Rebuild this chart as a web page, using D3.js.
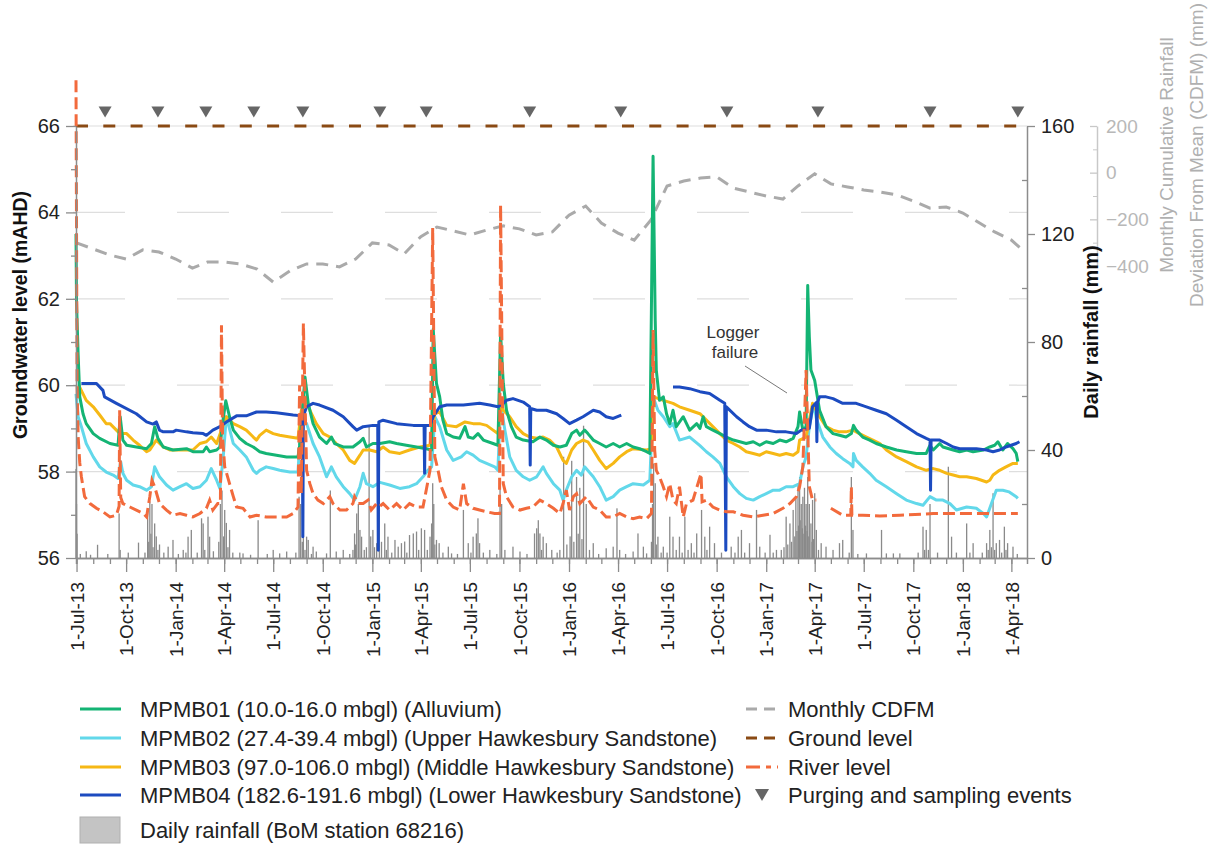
<!DOCTYPE html>
<html><head><meta charset="utf-8">
<script src="https://cdn.jsdelivr.net/npm/d3@7"></script>
<style>
html,body{margin:0;padding:0;background:#fff;}
svg{display:block;font-family:"Liberation Sans",Arial,Helvetica,sans-serif;}
</style></head><body>
<svg id="chart" width="1215" height="846"></svg>
<script>
// ---------------- DATA ----------------
const dateDomain = ["2013-06-30", "2018-04-30"];
const levelTicks = [56, 58, 60, 62, 64, 66];
const levelMinorTicks = [57, 59, 61, 63, 65];
const gridLevels = [58, 60, 62, 64, 66];
const groundLevel = 66;
const rainTicks = [0, 40, 80, 120, 160];
const rainMinorTicks = [20, 60, 100, 140];
const cdfmTicks = [200, 0, -200, -400];
const cdfmMinorTicks = [100, -100, -300];

const seriesNames = [
  "MPMB01 (10.0-16.0 mbgl) (Alluvium)",
  "MPMB02 (27.4-39.4 mbgl) (Upper Hawkesbury Sandstone)",
  "MPMB03 (97.0-106.0 mbgl) (Middle Hawkesbury Sandstone)",
  "MPMB04 (182.6-191.6 mbgl) (Lower Hawkesbury Sandstone)"
];
const rightLegendNames = ["Monthly CDFM", "Ground level", "River level", "Purging and sampling events"];
const rainLegendName = "Daily rainfall (BoM station 68216)";

const purgeDates = ["2013-08-23","2013-11-29","2014-02-26","2014-05-26","2014-08-25","2015-01-15",
  "2015-04-11","2015-10-20","2016-04-06","2016-10-20","2017-04-07","2017-11-01","2018-04-13"];

const cdfmMonths = ["2013-07-01","2013-08-01","2013-09-01","2013-10-01","2013-11-01","2013-12-01",
  "2014-01-01","2014-02-01","2014-03-01","2014-04-01","2014-05-01","2014-06-01","2014-07-01","2014-08-01",
  "2014-09-01","2014-10-01","2014-11-01","2014-12-01","2015-01-01","2015-02-01","2015-03-01","2015-04-01",
  "2015-05-01","2015-06-01","2015-07-01","2015-08-01","2015-09-01","2015-10-01","2015-11-01","2015-12-01",
  "2016-01-01","2016-02-01","2016-03-01","2016-04-01","2016-05-01","2016-06-01","2016-07-01","2016-08-01",
  "2016-09-01","2016-10-01","2016-11-01","2016-12-01","2017-01-01","2017-02-01","2017-03-01","2017-04-01",
  "2017-05-01","2017-06-01","2017-07-01","2017-08-01","2017-09-01","2017-10-01","2017-11-01","2017-12-01",
  "2018-01-01","2018-02-01","2018-03-01","2018-04-01","2018-04-17"];
const cdfmValues = [-301,-327,-353,-370,-331,-340,-370,-409,-383,-383,-391,-413,-469,-421,-391,-391,-404,-370,
  -301,-310,-348,-274,-233,-250,-267,-246,-228,-241,-267,-254,-182,-143,-216,-259,-289,-203,-57,-36,-23,-18,
  -66,-83,-100,-113,-57,-5,-48,-61,-74,-83,-96,-122,-152,-147,-173,-216,-254,-289,-322];

const mpmb01 = [["2013-06-30",63.5],["2013-07-01",61.9],["2013-07-04",60.7],["2013-07-07",59.73],["2013-07-13",59.34],
 ["2013-07-19",59.11],["2013-08-01",58.88],["2013-08-13",58.77],["2013-09-01",58.65],["2013-09-16",58.61],["2013-09-20",59.27],
 ["2013-09-25",58.73],["2013-10-02",58.61],["2013-10-20",58.57],["2013-11-08",58.53],["2013-11-17",58.65],["2013-11-23",59.04],
 ["2013-11-29",58.77],["2013-12-09",58.57],["2013-12-27",58.5],["2014-01-21",58.53],["2014-02-02",58.46],["2014-02-21",58.46],
 ["2014-02-27",58.57],["2014-03-05",58.46],["2014-03-18",58.5],["2014-03-24",58.57],["2014-03-30",59.2],["2014-04-04",59.64],
 ["2014-04-11",59.27],["2014-04-18",58.96],["2014-04-30",58.77],["2014-05-12",58.65],["2014-05-25",58.57],["2014-06-06",58.46],
 ["2014-06-18",58.42],["2014-07-07",58.38],["2014-07-26",58.34],["2014-08-16",58.34],["2014-08-19",58.6],["2014-08-29",60.19],
 ["2014-09-04",59.58],["2014-09-13",59.11],["2014-09-25",58.8],["2014-10-08",58.65],["2014-10-17",58.8],["2014-10-23",58.65],
 ["2014-11-08",58.57],["2014-11-26",58.57],["2014-12-09",58.69],["2014-12-15",58.77],["2014-12-21",58.57],["2015-01-02",58.65],
 ["2015-01-15",58.65],["2015-02-02",58.69],["2015-02-15",58.65],["2015-03-05",58.61],["2015-03-24",58.57],["2015-04-11",58.53],
 ["2015-04-21",58.5],["2015-04-24",61.3],["2015-04-30",60.04],["2015-05-06",59.73],["2015-05-12",59.19],["2015-05-19",58.88],
 ["2015-05-31",58.8],["2015-06-12",58.77],["2015-06-22",59.04],["2015-06-28",58.8],["2015-07-07",58.77],["2015-07-16",58.88],
 ["2015-07-26",58.73],["2015-08-13",58.65],["2015-08-22",58.61],["2015-08-27",61.2],["2015-09-01",60.04],["2015-09-07",59.42],
 ["2015-09-16",59.04],["2015-09-25",58.8],["2015-10-08",58.73],["2015-10-26",58.69],["2015-11-08",58.8],["2015-11-20",58.73],
 ["2015-12-03",58.61],["2015-12-15",58.57],["2015-12-27",58.61],["2016-01-06",58.88],["2016-01-15",58.96],["2016-01-21",58.84],
 ["2016-01-30",58.96],["2016-02-05",58.88],["2016-02-15",58.73],["2016-02-27",58.65],["2016-03-10",58.57],["2016-03-23",58.65],
 ["2016-04-04",58.57],["2016-04-17",58.65],["2016-04-29",58.57],["2016-05-11",58.53],["2016-05-24",58.46],["2016-05-30",58.42],
 ["2016-06-05",65.3],["2016-06-09",61.5],["2016-06-11",60.35],["2016-06-17",59.65],["2016-06-24",59.73],["2016-06-30",59.34],
 ["2016-07-06",59.11],["2016-07-12",59.42],["2016-07-18",59.04],["2016-07-31",59.27],["2016-08-12",58.96],["2016-08-25",59.11],
 ["2016-08-31",59.0],["2016-09-06",59.27],["2016-09-12",59.04],["2016-09-24",58.96],["2016-10-07",58.88],["2016-10-19",58.8],
 ["2016-11-01",58.73],["2016-11-13",58.69],["2016-11-25",58.65],["2016-12-08",58.69],["2016-12-20",58.61],["2017-01-01",58.69],
 ["2017-01-14",58.65],["2017-01-26",58.73],["2017-02-07",58.69],["2017-02-20",58.77],["2017-03-01",59.04],["2017-03-04",59.38],
 ["2017-03-10",58.96],["2017-03-16",59.04],["2017-03-19",62.31],["2017-03-22",61.12],["2017-03-25",60.35],["2017-04-01",60.11],
 ["2017-04-10",59.42],["2017-04-22",59.04],["2017-05-05",58.88],["2017-05-17",58.84],["2017-05-29",58.8],["2017-06-08",58.88],
 ["2017-06-12",59.07],["2017-06-17",58.96],["2017-06-29",58.8],["2017-07-12",58.73],["2017-07-24",58.65],["2017-08-12",58.57],
 ["2017-08-31",58.5],["2017-09-18",58.46],["2017-10-07",58.42],["2017-10-25",58.42],["2017-11-01",58.61],["2017-11-07",58.5],
 ["2017-11-19",58.65],["2017-11-25",58.57],["2017-12-14",58.5],["2017-12-26",58.46],["2018-01-08",58.5],["2018-01-20",58.46],
 ["2018-02-08",58.5],["2018-02-20",58.57],["2018-03-01",58.61],["2018-03-07",58.69],["2018-03-16",58.5],["2018-03-25",58.65],
 ["2018-04-04",58.53],["2018-04-10",58.42],["2018-04-13",58.23]];

const mpmb02 = [["2013-06-30",59.8],["2013-07-04",59.27],["2013-07-10",59.04],["2013-07-19",58.65],["2013-08-01",58.34],
 ["2013-08-13",58.11],["2013-08-25",57.99],["2013-09-07",57.92],["2013-09-16",57.84],["2013-09-21",58.23],["2013-09-25",57.96],
 ["2013-10-02",57.8],["2013-10-14",57.69],["2013-10-26",57.65],["2013-11-08",57.57],["2013-11-17",57.65],["2013-11-23",58.11],
 ["2013-12-02",57.88],["2013-12-15",57.69],["2013-12-27",57.57],["2014-01-09",57.65],["2014-01-21",57.72],["2014-02-02",57.61],
 ["2014-02-15",57.65],["2014-02-27",57.8],["2014-03-08",58.07],["2014-03-18",57.8],["2014-03-24",57.61],["2014-03-30",58.3],
 ["2014-04-05",59.27],["2014-04-18",58.65],["2014-04-30",58.5],["2014-05-12",58.34],["2014-05-25",58.03],["2014-05-31",57.96],
 ["2014-06-06",58.03],["2014-06-18",58.11],["2014-07-01",58.07],["2014-07-13",58.03],["2014-08-01",57.99],["2014-08-16",57.99],
 ["2014-08-22",59.27],["2014-09-01",59.11],["2014-09-13",58.65],["2014-09-25",58.34],["2014-10-08",57.88],["2014-10-17",58.11],
 ["2014-10-26",57.88],["2014-11-08",57.65],["2014-11-20",57.49],["2014-11-29",57.34],["2014-12-09",57.65],["2014-12-15",57.96],
 ["2014-12-21",57.72],["2015-01-02",57.65],["2015-01-15",57.75],["2015-02-02",57.69],["2015-02-21",57.61],["2015-03-11",57.65],
 ["2015-03-24",57.72],["2015-04-05",57.88],["2015-04-14",58.03],["2015-04-21",58.11],["2015-04-27",59.27],["2015-05-06",59.04],
 ["2015-05-19",58.5],["2015-05-31",58.26],["2015-06-15",58.34],["2015-06-25",58.46],["2015-07-07",58.38],["2015-07-19",58.26],
 ["2015-08-01",58.19],["2015-08-16",58.11],["2015-08-22",58.03],["2015-08-27",59.58],["2015-09-04",58.96],["2015-09-13",58.34],
 ["2015-09-25",58.03],["2015-10-08",57.88],["2015-10-20",57.8],["2015-11-02",57.88],["2015-11-14",58.11],["2015-11-20",57.96],
 ["2015-12-03",57.72],["2015-12-15",57.57],["2015-12-21",57.34],["2015-12-27",57.57],["2016-01-06",57.88],["2016-01-15",58.03],
 ["2016-01-24",57.92],["2016-01-30",58.11],["2016-02-15",57.88],["2016-02-27",57.65],["2016-03-10",57.34],["2016-03-23",57.42],
 ["2016-04-04",57.57],["2016-04-17",57.65],["2016-04-29",57.72],["2016-05-18",57.69],["2016-05-30",57.8],["2016-06-05",59.73],
 ["2016-06-14",59.42],["2016-06-24",59.27],["2016-07-06",59.04],["2016-07-12",59.11],["2016-07-24",58.73],["2016-08-12",58.8],
 ["2016-08-31",58.6],["2016-09-12",58.46],["2016-09-24",58.34],["2016-10-07",58.19],["2016-10-19",57.88],["2016-11-01",57.65],
 ["2016-11-13",57.49],["2016-11-25",57.38],["2016-12-08",57.34],["2016-12-20",57.42],["2017-01-01",57.49],["2017-01-14",57.57],
 ["2017-01-26",57.57],["2017-02-07",57.65],["2017-02-20",57.65],["2017-03-04",57.72],["2017-03-10",58.11],["2017-03-16",58.34],
 ["2017-03-22",59.04],["2017-03-28",59.42],["2017-04-01",59.46],["2017-04-04",59.23],["2017-04-16",58.8],["2017-04-29",58.57],
 ["2017-05-11",58.42],["2017-05-23",58.3],["2017-06-05",58.19],["2017-06-11",58.11],["2017-06-12",58.42],["2017-06-17",58.26],
 ["2017-06-29",58.11],["2017-07-12",57.96],["2017-07-24",57.8],["2017-08-12",57.65],["2017-08-31",57.49],["2017-09-18",57.34],
 ["2017-10-07",57.26],["2017-10-19",57.22],["2017-11-01",57.42],["2017-11-13",57.34],["2017-11-25",57.34],["2017-12-08",57.26],
 ["2017-12-20",57.11],["2018-01-08",57.18],["2018-01-26",57.15],["2018-02-08",57.03],["2018-02-14",56.95],["2018-02-23",57.26],
 ["2018-03-04",57.57],["2018-03-16",57.57],["2018-03-28",57.53],["2018-04-10",57.42],["2018-04-13",57.38]];

const mpmb03 = [["2013-07-05",60.0],["2013-07-19",59.65],["2013-08-01",59.5],["2013-08-13",59.31],["2013-08-25",59.11],
 ["2013-09-01",59.11],["2013-09-13",58.96],["2013-09-19",58.88],["2013-10-02",58.88],["2013-10-14",58.73],["2013-10-26",58.61],
 ["2013-11-08",58.46],["2013-11-14",58.5],["2013-11-26",58.73],["2013-12-09",58.57],["2013-12-21",58.5],["2014-01-02",58.5],
 ["2014-01-21",58.5],["2014-02-02",58.5],["2014-02-15",58.65],["2014-02-27",58.69],["2014-03-08",58.8],["2014-03-18",58.65],
 ["2014-03-27",58.96],["2014-04-05",59.27],["2014-04-11",59.19],["2014-04-18",59.11],["2014-04-30",59.04],["2014-05-12",58.96],
 ["2014-05-25",58.8],["2014-05-31",58.73],["2014-06-06",58.84],["2014-06-18",58.96],["2014-07-01",58.88],["2014-07-13",58.84],
 ["2014-08-01",58.8],["2014-08-16",58.77],["2014-08-22",59.4],["2014-08-29",59.73],["2014-09-07",59.42],["2014-09-19",59.11],
 ["2014-10-02",58.88],["2014-10-14",58.8],["2014-10-26",58.65],["2014-11-08",58.5],["2014-11-20",58.26],["2014-11-29",58.19],
 ["2014-12-09",58.38],["2014-12-15",58.5],["2014-12-27",58.5],["2015-01-09",58.46],["2015-01-21",58.57],["2015-02-02",58.46],
 ["2015-02-21",58.42],["2015-03-11",58.5],["2015-03-30",58.57],["2015-04-18",58.61],["2015-04-27",59.34],["2015-05-06",59.38],
 ["2015-05-19",59.07],["2015-06-06",59.04],["2015-06-22",59.15],["2015-07-07",59.11],["2015-07-19",59.11],["2015-08-01",59.07],
 ["2015-08-13",58.96],["2015-08-22",58.88],["2015-08-29",59.58],["2015-09-01",59.42],["2015-09-13",59.27],["2015-09-25",59.04],
 ["2015-10-08",58.88],["2015-10-20",58.8],["2015-11-02",58.77],["2015-11-14",58.8],["2015-11-26",58.73],["2015-12-09",58.57],
 ["2015-12-21",58.26],["2015-12-27",58.19],["2016-01-06",58.5],["2016-01-15",58.65],["2016-01-27",58.73],["2016-02-05",58.69],
 ["2016-02-15",58.5],["2016-02-27",58.26],["2016-03-10",58.07],["2016-03-23",58.19],["2016-04-04",58.34],["2016-04-17",58.46],
 ["2016-04-29",58.53],["2016-05-24",58.5],["2016-06-02",58.53],["2016-06-06",59.73],["2016-06-24",59.65],["2016-07-12",59.58],
 ["2016-07-24",59.5],["2016-08-12",59.42],["2016-08-31",59.34],["2016-09-06",59.27],["2016-09-24",59.04],["2016-10-07",58.88],
 ["2016-10-19",58.73],["2016-11-01",58.65],["2016-11-13",58.57],["2016-11-25",58.46],["2016-12-08",58.42],["2016-12-20",58.38],
 ["2017-01-01",58.46],["2017-01-14",58.42],["2017-01-26",58.38],["2017-02-07",58.42],["2017-02-20",58.38],["2017-03-01",58.46],
 ["2017-03-04",58.73],["2017-03-16",58.8],["2017-03-28",59.58],["2017-04-10",59.27],["2017-04-22",59.04],["2017-05-05",58.96],
 ["2017-05-17",58.92],["2017-05-29",58.92],["2017-06-11",58.96],["2017-06-23",58.88],["2017-07-06",58.8],["2017-07-18",58.73],
 ["2017-07-31",58.65],["2017-08-12",58.5],["2017-08-31",58.34],["2017-09-18",58.23],["2017-10-07",58.11],["2017-10-25",58.03],
 ["2017-11-07",58.07],["2017-11-19",58.03],["2017-12-02",57.96],["2017-12-14",57.92],["2017-12-26",57.88],["2018-01-08",57.88],
 ["2018-01-26",57.84],["2018-02-14",57.76],["2018-02-20",57.8],["2018-02-26",57.92],["2018-03-10",58.03],["2018-03-22",58.11],
 ["2018-04-04",58.19],["2018-04-13",58.19]];

const mpmb04 = [["2013-07-10",60.04],["2013-08-07",60.04],["2013-08-19",59.88],["2013-08-22",59.73],["2013-09-13",59.58],
 ["2013-10-20",59.34],["2013-11-08",59.15],["2013-11-20",59.1],["2013-11-26",59.15],["2013-12-02",58.96],["2013-12-09",58.92],
 ["2013-12-27",58.92],["2014-01-02",58.96],["2014-01-21",58.92],["2014-02-02",58.9],["2014-02-21",58.88],["2014-02-27",58.84],
 ["2014-03-11",58.96],["2014-03-24",59.04],["2014-04-05",59.15],["2014-04-24",59.29],["2014-05-12",59.29],["2014-05-31",59.38],
 ["2014-06-18",59.38],["2014-07-07",59.36],["2014-08-07",59.31],["2014-08-24",59.29],["2014-08-25",56.49],["2014-08-26",59.29],
 ["2014-09-01",59.5],["2014-09-13",59.58],["2014-09-25",59.54],["2014-10-20",59.42],["2014-11-08",59.27],["2014-11-26",59.04],
 ["2014-12-03",58.96],["2014-12-15",59.04],["2015-01-02",59.07],["2015-01-11",59.07],["2015-01-12",56.18],["2015-01-13",59.15],
 ["2015-01-21",59.19],["2015-02-15",59.11],["2015-03-18",59.07],["2015-04-07",59.07],["2015-04-08",57.96],["2015-04-09",59.07],
 ["2015-04-18",59.07],["2015-04-24",59.27],["2015-05-06",59.5],["2015-05-19",59.54],["2015-06-19",59.54],["2015-07-19",59.58],
 ["2015-08-07",59.54],["2015-08-22",59.5],["2015-09-01",59.58],["2015-09-07",59.65],["2015-09-19",59.69],["2015-10-08",59.61],
 ["2015-10-20",59.5],["2015-10-21",58.15],["2015-10-22",59.46],["2015-11-02",59.42],["2015-11-20",59.42],["2015-12-09",59.34],
 ["2015-12-21",59.23],["2016-01-02",59.11],["2016-01-15",59.19],["2016-01-27",59.27],["2016-02-15",59.42],["2016-02-27",59.38],
 ["2016-03-10",59.27],["2016-03-23",59.23],["2016-04-07",59.31],["2016-05-01",null],["2016-07-12",59.96],["2016-07-24",59.96],
 ["2016-08-12",59.92],["2016-08-31",59.85],["2016-09-18",59.81],["2016-10-07",59.65],["2016-10-16",59.58],["2016-10-18",56.18],
 ["2016-10-19",59.5],["2016-11-07",59.27],["2016-11-19",59.15],["2016-12-01",59.04],["2016-12-14",58.96],["2017-01-01",58.96],
 ["2017-01-20",58.92],["2017-02-07",58.92],["2017-02-26",58.88],["2017-03-07",58.96],["2017-03-22",59.0],["2017-03-28",59.5],
 ["2017-04-04",59.6],["2017-04-05",58.69],["2017-04-06",59.6],["2017-04-10",59.73],["2017-04-22",59.73],["2017-05-05",59.69],
 ["2017-05-23",59.58],["2017-06-17",59.58],["2017-07-06",59.5],["2017-07-24",59.42],["2017-08-12",59.34],["2017-08-31",59.19],
 ["2017-09-18",59.04],["2017-10-07",58.88],["2017-10-25",58.77],["2017-11-01",58.73],["2017-11-02",57.57],["2017-11-03",58.73],
 ["2017-11-19",58.73],["2017-12-02",58.65],["2017-12-14",58.57],["2017-12-26",58.53],["2018-01-08",58.53],["2018-01-26",58.53],
 ["2018-02-14",58.5],["2018-02-26",58.46],["2018-03-10",58.5],["2018-03-22",58.57],["2018-04-10",58.65],["2018-04-16",58.69]];

const riverLevel = [["2013-06-30",67.06],["2013-07-02",60.0],["2013-07-04",58.8],["2013-07-07",58.2],["2013-07-10",57.88],
 ["2013-07-16",57.42],["2013-07-26",57.26],["2013-08-07",57.15],["2013-08-19",57.07],["2013-09-01",56.95],["2013-09-13",56.99],
 ["2013-09-18",57.2],["2013-09-19",59.42],["2013-09-21",57.4],["2013-09-25",57.26],["2013-10-08",57.18],["2013-10-20",57.11],
 ["2013-11-02",57.03],["2013-11-08",56.95],["2013-11-14",57.42],["2013-11-18",57.8],["2013-11-23",57.65],["2013-12-02",57.26],
 ["2013-12-15",57.11],["2013-12-27",56.99],["2014-01-09",57.03],["2014-01-21",56.99],["2014-02-02",56.95],["2014-02-15",57.03],
 ["2014-02-27",57.15],["2014-03-05",57.34],["2014-03-11",57.11],["2014-03-20",57.26],["2014-03-25",57.26],["2014-03-27",61.39],
 ["2014-03-29",58.8],["2014-04-02",58.11],["2014-04-11",57.72],["2014-04-18",57.42],["2014-04-24",57.18],["2014-05-06",57.15],
 ["2014-05-19",56.95],["2014-05-31",56.99],["2014-06-18",56.95],["2014-07-07",56.95],["2014-07-26",56.95],["2014-08-07",57.03],
 ["2014-08-16",57.18],["2014-08-19",60.0],["2014-08-22",57.5],["2014-08-26",61.43],["2014-09-01",58.03],["2014-09-07",57.72],
 ["2014-09-13",57.49],["2014-09-22",57.34],["2014-10-02",57.26],["2014-10-14",57.42],["2014-10-20",57.26],["2014-11-02",57.11],
 ["2014-11-14",57.11],["2014-11-26",57.26],["2014-11-29",57.42],["2014-12-06",57.26],["2014-12-15",57.26],["2014-12-24",57.34],
 ["2014-12-30",57.11],["2015-01-09",57.26],["2015-01-15",57.2],["2015-01-21",57.26],["2015-02-02",57.11],["2015-02-15",57.26],
 ["2015-02-27",57.11],["2015-03-11",57.26],["2015-03-24",57.18],["2015-04-05",57.18],["2015-04-18",58.03],["2015-04-23",63.64],
 ["2015-04-27",58.34],["2015-05-03",58.03],["2015-05-09",57.65],["2015-05-19",57.34],["2015-05-31",57.18],["2015-06-12",57.11],
 ["2015-06-19",57.72],["2015-06-25",57.26],["2015-07-07",57.15],["2015-07-19",57.11],["2015-08-01",57.07],["2015-08-16",57.03],
 ["2015-08-25",57.03],["2015-08-27",64.17],["2015-09-01",57.72],["2015-09-07",57.42],["2015-09-19",57.18],["2015-10-02",57.11],
 ["2015-10-14",57.15],["2015-10-26",57.18],["2015-11-08",57.34],["2015-11-20",57.26],["2015-12-03",57.15],["2015-12-15",57.03],
 ["2015-12-21",57.26],["2015-12-27",57.57],["2016-01-02",57.11],["2016-01-09",57.42],["2016-01-15",57.49],["2016-01-21",57.26],
 ["2016-02-02",57.42],["2016-02-15",57.18],["2016-02-27",57.11],["2016-03-10",56.95],["2016-03-23",56.95],["2016-04-04",57.03],
 ["2016-04-17",56.95],["2016-04-29",56.91],["2016-05-11",56.95],["2016-05-24",56.91],["2016-06-02",57.03],["2016-06-05",61.28],
 ["2016-06-08",58.5],["2016-06-11",58.03],["2016-06-17",57.88],["2016-06-24",57.65],["2016-06-30",57.42],["2016-07-06",57.72],
 ["2016-07-12",57.34],["2016-07-18",57.26],["2016-07-24",57.65],["2016-07-31",56.95],["2016-08-06",57.26],["2016-08-18",57.34],
 ["2016-09-02",57.95],["2016-09-04",57.3],["2016-09-12",57.34],["2016-09-24",57.18],["2016-10-07",57.11],["2016-10-19",57.07],
 ["2016-11-01",57.07],["2016-11-19",56.99],["2016-12-08",56.95],["2016-12-26",56.99],["2017-01-14",57.03],["2017-02-01",57.15],
 ["2017-02-14",57.26],["2017-02-26",57.42],["2017-03-04",57.65],["2017-03-10",58.11],["2017-03-16",60.35],["2017-03-22",57.65],
 ["2017-03-28",57.34],["2017-04-04",57.34],["2017-04-15",null],["2017-05-01",57.15],["2017-05-23",56.99],["2017-06-07",56.99],
 ["2017-06-08",57.65],["2017-06-09",56.99],["2017-06-29",56.99],["2017-07-31",56.97],["2017-09-06",56.99],["2017-11-07",57.03],
 ["2018-01-08",57.03],["2018-03-10",57.03],["2018-04-13",57.03]];

const rainfall = [["2013-06-30",33],["2013-07-01",20],["2013-07-02",9],["2013-07-08",1.5],["2013-07-19",2.5],["2013-07-27",1.2],
 ["2013-08-09",4.9],["2013-08-28",1.5],["2013-09-18",16.5],["2013-09-20",3],["2013-10-05",2],["2013-10-24",5.7],["2013-11-05",2],
 ["2013-11-10",18],["2013-11-12",6],["2013-11-14",21],["2013-11-16",9],["2013-11-18",20],["2013-11-20",4],["2013-11-23",12.8],
 ["2013-11-26",8],["2013-11-29",3],["2013-12-02",5],["2013-12-10",2],["2013-12-18",4.2],["2013-12-27",6.7],["2014-01-06",1.5],
 ["2014-01-15",3],["2014-01-20",2],["2014-01-24",7.9],["2014-01-30",10.4],["2014-02-10",2],["2014-02-18",14.7],["2014-02-21",12.8],
 ["2014-02-24",3],["2014-03-02",15.3],["2014-03-05",7.9],["2014-03-12",2.5],["2014-03-22",6],["2014-03-25",20],["2014-03-28",25],
 ["2014-03-31",8],["2014-04-02",17.8],["2014-04-05",13],["2014-04-08",4],["2014-04-11",10.4],["2014-04-17",2],["2014-04-30",2],
 ["2014-05-06",1.7],["2014-05-20",1.2],["2014-06-03",14],["2014-06-20",1.5],["2014-07-01",3],["2014-07-13",1.7],["2014-07-26",2.4],
 ["2014-08-12",2],["2014-08-18",22.7],["2014-08-21",20],["2014-08-24",6],["2014-08-26",17.8],["2014-08-29",3],["2014-09-01",7.9],
 ["2014-09-04",6.7],["2014-09-10",1.5],["2014-09-13",4.2],["2014-09-19",2.4],["2014-10-08",1.7],["2014-10-15",25],["2014-10-26",2.4],
 ["2014-11-08",3],["2014-11-20",1.5],["2014-11-26",3],["2014-11-29",9.1],["2014-12-01",5],["2014-12-03",16.5],["2014-12-06",20],
 ["2014-12-09",10.4],["2014-12-12",7.9],["2014-12-17",3],["2014-12-21",4],["2014-12-26",48.6],["2014-12-29",8],["2015-01-02",10.4],
 ["2015-01-05",4],["2015-01-09",5.5],["2015-01-14",35],["2015-01-18",6],["2015-01-24",12.8],["2015-01-27",3],["2015-01-30",7.9],
 ["2015-02-06",2],["2015-02-12",6.7],["2015-02-18",4.2],["2015-02-24",5.5],["2015-03-02",6.1],["2015-03-06",2],["2015-03-11",8.5],
 ["2015-03-18",9.1],["2015-03-24",9.8],["2015-03-28",3],["2015-04-02",11],["2015-04-08",10.4],["2015-04-13",3],["2015-04-18",7.9],
 ["2015-04-21",12.8],["2015-04-23",27.7],["2015-04-25",20],["2015-04-27",5],["2015-04-30",6.7],["2015-05-05",5.5],["2015-05-12",2],
 ["2015-05-22",4.2],["2015-05-28",1.7],["2015-06-08",1.5],["2015-06-19",17.8],["2015-06-28",5.5],["2015-07-03",2],["2015-07-07",7.9],
 ["2015-07-13",9.1],["2015-07-16",14.7],["2015-07-19",5.5],["2015-07-26",2],["2015-08-07",3],["2015-08-20",1.5],["2015-08-26",27.7],
 ["2015-08-29",20],["2015-09-04",3],["2015-09-19",4.2],["2015-10-02",2.4],["2015-10-15",1.5],["2015-10-29",9.1],["2015-11-02",11],
 ["2015-11-05",14],["2015-11-08",9.1],["2015-11-11",3],["2015-11-14",7.9],["2015-11-20",5.5],["2015-11-30",3],["2015-12-10",2],
 ["2015-12-15",3],["2015-12-22",37.5],["2015-12-28",5],["2016-01-03",8],["2016-01-06",36],["2016-01-10",6],["2016-01-15",30],
 ["2016-01-18",9],["2016-01-21",26],["2016-01-25",7],["2016-01-28",49],["2016-02-02",20],["2016-02-08",3],["2016-02-15",5.5],
 ["2016-02-25",1.5],["2016-03-10",3.6],["2016-03-23",4.2],["2016-03-30",18.4],["2016-04-04",3],["2016-04-15",1.5],["2016-04-29",2.4],
 ["2016-05-08",9.1],["2016-05-18",4.2],["2016-05-24",1.7],["2016-06-02",6],["2016-06-04",20],["2016-06-06",35],["2016-06-09",27.7],
 ["2016-06-11",5],["2016-06-14",7.9],["2016-06-20",2],["2016-06-24",4.2],["2016-07-01",2],["2016-07-06",15.3],["2016-07-12",7.9],
 ["2016-07-18",3],["2016-07-24",7.9],["2016-07-29",2],["2016-08-03",15.3],["2016-08-09",3],["2016-08-15",5.5],["2016-08-20",2],
 ["2016-08-25",9.1],["2016-09-03",17.8],["2016-09-09",7.9],["2016-09-13",3],["2016-09-18",11.6],["2016-09-27",5.5],["2016-10-10",2],
 ["2016-10-28",4.2],["2016-11-04",2],["2016-11-10",7.9],["2016-11-16",10.4],["2016-11-22",2],["2016-12-01",5.5],["2016-12-14",17.8],
 ["2016-12-20",4.2],["2016-12-30",2],["2017-01-08",8.6],["2017-01-14",2],["2017-01-20",3],["2017-01-29",3],["2017-02-03",4],
 ["2017-02-07",15.3],["2017-02-10",5],["2017-02-14",12.8],["2017-02-17",6],["2017-02-20",17.8],["2017-02-23",8],["2017-02-25",22.7],
 ["2017-02-27",10],["2017-03-01",27.7],["2017-03-02",12],["2017-03-04",30],["2017-03-05",14],["2017-03-07",20],["2017-03-09",11],
 ["2017-03-10",22.7],["2017-03-12",9],["2017-03-13",26],["2017-03-15",12],["2017-03-16",20],["2017-03-18",10],["2017-03-19",30],
 ["2017-03-21",8],["2017-03-22",20],["2017-03-25",12.8],["2017-03-27",6],["2017-03-28",21.5],["2017-03-30",7],["2017-04-01",24],
 ["2017-04-04",10.4],["2017-04-08",3],["2017-04-13",5.5],["2017-04-22",4.2],["2017-05-05",3],["2017-05-17",5.5],["2017-05-23",6.7],
 ["2017-06-04",2],["2017-06-08",30],["2017-06-11",10.4],["2017-06-20",1.5],["2017-07-06",1.7],["2017-08-03",10.4],["2017-08-12",1.7],
 ["2017-08-25",1.7],["2017-09-06",1.7],["2017-10-10",2],["2017-10-19",11.6],["2017-10-22",3],["2017-10-25",10.4],["2017-10-29",3],
 ["2017-11-01",20],["2017-11-15",2],["2017-12-05",33.8],["2017-12-11",7.9],["2017-12-20",2],["2018-01-08",12.8],["2018-01-14",2],
 ["2018-01-20",5.5],["2018-02-06",2],["2018-02-14",5.5],["2018-02-17",3],["2018-02-20",10.4],["2018-02-23",4],["2018-02-26",24],
 ["2018-03-01",3],["2018-03-04",5.5],["2018-03-10",6.7],["2018-03-14",2],["2018-03-19",11.6],["2018-03-22",3],["2018-03-25",5.5],
 ["2018-04-04",4.2],["2018-04-12",1.5]];

// ---------------- STYLE ----------------
const colors = {
  mpmb01: "#14b474", mpmb02: "#62d8ea", mpmb03: "#f6b815", mpmb04: "#1c4bc0",
  river: "#f26a3c", ground: "#8a4a14", cdfm: "#aaaaaa", rain: "#8a8a8a", purge: "#666666", axis: "#8c8c8c"
};

// ---------------- CHART ----------------
const parse = d3.timeParse("%Y-%m-%d");
const svg = d3.select("#chart");
const L = 76, R = 1027, T = 126, B = 558;

const x = d3.scaleTime().domain(dateDomain.map(parse)).range([L, R]);
const y = d3.scaleLinear().domain([56, 66]).range([B, T]);
const yRain = d3.scaleLinear().domain([0, 160]).range([B, T]);
const yCdfm = d3.scaleLinear().domain([-400, 200]).range([266, T]);

// gridlines
svg.append("g").selectAll("line").data(gridLevels).join("line")
  .attr("x1", 73).attr("x2", R).attr("y1", d => y(d)).attr("y2", d => y(d))
  .attr("stroke", "#dedede").attr("stroke-width", 1.2)
  .attr("stroke-dasharray", d => d === 66 ? null : "52,52");

// rainfall bars
svg.append("g").selectAll("rect").data(rainfall).join("rect")
  .attr("x", d => x(parse(d[0])) - 0.65).attr("width", 1.3)
  .attr("y", d => yRain(d[1])).attr("height", d => B - yRain(d[1]))
  .attr("fill", colors.rain);

// CDFM
const cdfmData = cdfmMonths.map((m, i) => [parse(m), cdfmValues[i]]);
svg.append("path").datum(cdfmData)
  .attr("d", d3.line().x(d => x(d[0])).y(d => yCdfm(d[1])))
  .attr("fill", "none").attr("stroke", colors.cdfm).attr("stroke-width", 3)
  .attr("stroke-dasharray", "12,8");

// ground level
svg.append("line").attr("x1", L).attr("x2", R).attr("y1", y(groundLevel)).attr("y2", y(groundLevel))
  .attr("stroke", colors.ground).attr("stroke-width", 3).attr("stroke-dasharray", "12,15.3");

const lineGen = d3.line().defined(d => d[1] != null).x(d => x(parse(d[0]))).y(d => y(d[1]));
[["mpmb02", mpmb02], ["mpmb03", mpmb03], ["mpmb01", mpmb01], ["mpmb04", mpmb04]].forEach(([k, data]) => {
  svg.append("path").datum(data).attr("d", lineGen)
    .attr("fill", "none").attr("stroke", colors[k]).attr("stroke-width", 3)
    .attr("stroke-linejoin", "round");
});
svg.append("path").datum(riverLevel).attr("d", lineGen)
  .attr("fill", "none").attr("stroke", colors.river).attr("stroke-width", 3)
  .attr("stroke-dasharray", "12,5");

// purge triangles
svg.append("g").selectAll("path").data(purgeDates).join("path")
  .attr("transform", d => `translate(${x(parse(d))},112)`)
  .attr("d", "M-6.5,-5.5L6.5,-5.5L0,5.5Z").attr("fill", colors.purge);

// axes
function styleAxis(g) {
  g.selectAll(".domain").attr("stroke", colors.axis).attr("stroke-width", 1.5);
  g.selectAll(".tick line").attr("stroke", colors.axis).attr("stroke-width", 1.3);
  g.selectAll(".tick text").attr("fill", "#222").style("font-size", "20px")
    .style("font-family", '"Liberation Sans", Arial, sans-serif');
}
svg.append("g").attr("transform", `translate(${L},0)`)
  .call(d3.axisLeft(y).tickValues(levelTicks).tickSize(10).tickSizeOuter(0).tickPadding(6))
  .call(styleAxis);
svg.append("g").attr("transform", `translate(${L},0)`)
  .call(d3.axisLeft(y).tickValues(levelMinorTicks).tickSize(5).tickFormat(""))
  .call(g => g.select(".domain").remove()).call(styleAxis);

const fmt = d3.timeFormat("%-d-%b-%y");
svg.append("g").attr("transform", `translate(0,${B})`)
  .call(d3.axisBottom(x).ticks(d3.timeMonth.every(1)).tickSize(6).tickFormat(""))
  .call(styleAxis);
const xa = svg.append("g").attr("transform", `translate(0,${B})`)
  .call(d3.axisBottom(x).ticks(d3.timeMonth.every(3)).tickSize(14).tickSizeOuter(0).tickFormat(fmt))
  .call(styleAxis);
xa.selectAll(".tick text").attr("transform", "rotate(-90)").attr("text-anchor", "end")
  .attr("x", -24).attr("y", 0).attr("dy", "0.35em").style("font-size", "19px");

svg.append("g").attr("transform", `translate(${R},0)`)
  .call(d3.axisRight(yRain).tickValues(rainTicks).tickSize(8).tickSizeOuter(0).tickPadding(6))
  .call(styleAxis);
svg.append("g").attr("transform", `translate(${R},0)`)
  .call(d3.axisLeft(yRain).tickValues(rainMinorTicks).tickSize(5).tickFormat(""))
  .call(g => g.select(".domain").remove()).call(styleAxis);

const cx = 1097;
const ca = svg.append("g").attr("transform", `translate(${cx},0)`)
  .call(d3.axisRight(yCdfm).tickValues(cdfmTicks).tickSize(-7).tickSizeOuter(0).tickPadding(9))
  .call(styleAxis);
ca.selectAll(".domain").attr("stroke", "#c8c8c8");
ca.selectAll(".tick line").attr("stroke", "#c8c8c8");
ca.selectAll(".tick text").attr("fill", "#b8b8b8").style("font-size", "19px");
svg.append("g").attr("transform", `translate(${cx},0)`)
  .call(d3.axisLeft(yCdfm).tickValues(cdfmMinorTicks).tickSize(4).tickFormat(""))
  .call(g => g.select(".domain").remove())
  .call(g => g.selectAll(".tick line").attr("stroke", "#c8c8c8"));

// axis titles
svg.append("text").attr("transform", "translate(27,315) rotate(-90)").attr("text-anchor", "middle")
  .style("font-weight", "bold").style("font-size", "19.5px").attr("fill", "#111").text("Groundwater level (mAHD)");
svg.append("text").attr("transform", "translate(1098,332) rotate(-90)").attr("text-anchor", "middle")
  .style("font-weight", "bold").style("font-size", "20px").attr("fill", "#111").text("Daily rainfall (mm)");
svg.append("text").attr("transform", "translate(1173,155) rotate(-90)").attr("text-anchor", "middle")
  .style("font-size", "19px").attr("fill", "#b0b0b0").text("Monthly Cumulative Rainfall");
svg.append("text").attr("transform", "translate(1203,155) rotate(-90)").attr("text-anchor", "middle")
  .style("font-size", "19px").attr("fill", "#b0b0b0").text("Deviation From Mean (CDFM) (mm)");

// annotation
svg.append("text").attr("x", 733).attr("y", 338).attr("text-anchor", "middle").style("font-size", "17px").attr("fill", "#333").text("Logger");
svg.append("text").attr("x", 735).attr("y", 358).attr("text-anchor", "middle").style("font-size", "17px").attr("fill", "#333").text("failure");
svg.append("line").attr("x1", 745).attr("y1", 366).attr("x2", 787).attr("y2", 393).attr("stroke", "#777").attr("stroke-width", 1);

// legend
const lg = svg.append("g").style("font-size", "22px").attr("fill", "#222");
const leftRows = [709, 738, 767, 795];
["mpmb01", "mpmb02", "mpmb03", "mpmb04"].forEach((k, i) => {
  lg.append("line").attr("x1", 80).attr("x2", 121).attr("y1", leftRows[i]).attr("y2", leftRows[i])
    .attr("stroke", colors[k]).attr("stroke-width", 3);
  lg.append("text").attr("x", 140).attr("y", leftRows[i]).attr("dy", "0.35em").text(seriesNames[i]);
});
lg.append("rect").attr("x", 80).attr("y", 817).attr("width", 40).attr("height", 26)
  .attr("fill", "#c4c4c4").attr("stroke", "#b0b0b0");
lg.append("text").attr("x", 140).attr("y", 830).attr("dy", "0.35em").text(rainLegendName);

const rx1 = 746, rx2 = 778, rtx = 788;
lg.append("line").attr("x1", rx1).attr("x2", rx2).attr("y1", 709).attr("y2", 709)
  .attr("stroke", colors.cdfm).attr("stroke-width", 3).attr("stroke-dasharray", "11,7");
lg.append("line").attr("x1", rx1).attr("x2", rx2).attr("y1", 738).attr("y2", 738)
  .attr("stroke", colors.ground).attr("stroke-width", 3).attr("stroke-dasharray", "11,7");
lg.append("line").attr("x1", rx1).attr("x2", rx2).attr("y1", 767).attr("y2", 767)
  .attr("stroke", colors.river).attr("stroke-width", 3).attr("stroke-dasharray", "14,6,5,6");
lg.append("path").attr("transform", `translate(${(rx1 + rx2) / 2},795)`)
  .attr("d", "M-7,-6L7,-6L0,6Z").attr("fill", colors.purge);
rightLegendNames.forEach((t, i) => {
  lg.append("text").attr("x", rtx).attr("y", [709, 738, 767, 795][i]).attr("dy", "0.35em").text(t);
});
</script>
</body></html>
